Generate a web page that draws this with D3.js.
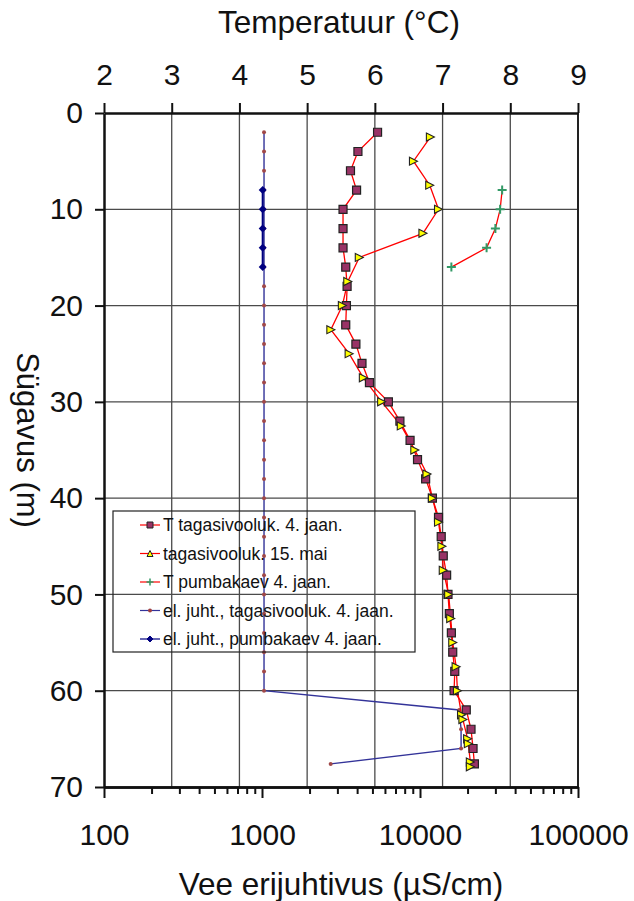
<!DOCTYPE html>
<html>
<head>
<meta charset="utf-8">
<script src="https://cdn.jsdelivr.net/npm/d3@7"></script>
<style>
    body { margin: 0; background: #fff; }
    text { font-family: "Liberation Sans", Arial, sans-serif; fill: #111; }
</style>
</head>
<body>
<svg id="chart" width="634" height="901"></svg>
<script>
// T tagasivooluk. 4. jaan. (squares)
const tagasiJaanDepth = [2, 4, 6, 8, 10, 12, 14, 16, 18, 20, 22, 24, 26, 28, 30, 32, 34, 36, 38, 40,
    42, 44, 46, 48, 50, 52, 54, 56, 58, 60, 62, 64, 66, 67.6];
const tagasiJaanTemp = [6.04, 5.75, 5.64, 5.73, 5.53, 5.53, 5.53, 5.57, 5.59, 5.58, 5.57, 5.72, 5.81, 5.92,
    6.2, 6.37, 6.52, 6.63, 6.75, 6.85, 6.94, 6.98, 7.01, 7.06, 7.08, 7.10, 7.13, 7.15, 7.18, 7.17,
    7.35, 7.42, 7.45, 7.47];

// tagasivooluk. 15. mai (triangles)
const tagasiMaiDepth = [2.5, 5, 7.5, 10, 12.5, 15, 17.5, 20, 22.5, 25, 27.5, 30, 32.5, 35, 37.5, 40,
    42.5, 45, 47.5, 50, 52.5, 55, 57.5, 60, 62.5, 63, 65, 65.5, 67.4, 67.9];
const tagasiMaiTemp = [6.82, 6.57, 6.81, 6.94, 6.71, 5.77, 5.6, 5.52, 5.35, 5.62, 5.83, 6.1, 6.39, 6.59,
    6.77, 6.85, 6.94, 6.99, 7.01, 7.09, 7.12, 7.15, 7.2, 7.22, 7.28, 7.30, 7.37, 7.38, 7.41, 7.41];

// T pumbakaev 4. jaan. (pluses)
const pumbaDepth = [8, 10, 12, 14, 16];
const pumbaTemp = [7.88, 7.85, 7.78, 7.65, 7.13];

// el. juht., tagasivooluk. 4. jaan.
const ecTagasiDepth = [2, 4, 6, 8, 10, 12, 14, 16, 18, 20, 22, 24, 26, 28, 30, 32, 34, 36, 38, 40,
    42, 44, 46, 48, 50, 52, 54, 56, 58, 60, 62, 64, 66, 67.6];
const ecTagasiValue = [1030, 1030, 1030, 1030, 1030, 1030, 1030, 1030, 1030, 1030, 1030, 1030, 1030,
    1030, 1030, 1030, 1030, 1030, 1030, 1030, 1030, 1030, 1030, 1030, 1030, 1030, 1030, 1030, 1030,
    1030, 17700, 18200, 18200, 2720];

// el. juht., pumbakaev 4. jaan.
const ecPumbaDepth = [8, 10, 12, 14, 16];
const ecPumbaValue = [1010, 1010, 1010, 1010, 1010];

const tempTicks = [2, 3, 4, 5, 6, 7, 8, 9];
const depthTicks = [0, 10, 20, 30, 40, 50, 60, 70];
const condTicks = [100, 1000, 10000, 100000];
const legendLabels = [
    "T tagasivooluk. 4. jaan.",
    "tagasivooluk. 15. mai",
    "T pumbakaev 4. jaan.",
    "el. juht., tagasivooluk. 4. jaan.",
    "el. juht., pumbakaev 4. jaan."
];

const margin = {top: 113, right: 56, bottom: 114, left: 104};
const W = 634, H = 901;
const width = W - margin.left - margin.right;
const height = H - margin.top - margin.bottom;

const tScale = d3.scaleLinear().domain([2, 9]).range([0, width]);
const cScale = d3.scaleLog().domain([100, 100000]).range([0, width]);
const yScale = d3.scaleLinear().domain([0, 70]).range([0, height]);

const RED = "#ff0000", PLUM = "#993366", NAVY = "#000080", INDIGO = "#333399";

const svg = d3.select("#chart");
const g = svg.append("g").attr("transform", `translate(${margin.left},${margin.top})`);

// grid
g.append("g").selectAll("line")
    .data(tempTicks.slice(1, -1))
    .join("line")
    .attr("x1", d => tScale(d)).attr("x2", d => tScale(d))
    .attr("y1", 0).attr("y2", height)
    .attr("stroke", "#4a4a4a").attr("stroke-width", 1.3);
g.append("g").selectAll("line")
    .data(depthTicks.slice(1, -1))
    .join("line")
    .attr("x1", 0).attr("x2", width)
    .attr("y1", d => yScale(d)).attr("y2", d => yScale(d))
    .attr("stroke", "#4a4a4a").attr("stroke-width", 1.3);
g.append("line")
    .attr("x1", width).attr("x2", width).attr("y1", 0).attr("y2", height)
    .attr("stroke", "#222").attr("stroke-width", 2);

// legend
const legend = svg.append("g").attr("transform", "translate(113,511)");
legend.append("rect")
    .attr("width", 302).attr("height", 141)
    .attr("fill", "none").attr("stroke", "#222").attr("stroke-width", 1.2);

// markers
const sym = {
    square: s => `M${-s/2},${-s/2}h${s}v${s}h${-s}Z`,
    triRight: s => `M${-s/2},${-s/2}L${s/2},0L${-s/2},${s/2}Z`,
    triUp: s => `M0,${-s/2}L${s/2},${s/2}L${-s/2},${s/2}Z`,
    plus: s => `M${-s/2},0h${s}M0,${-s/2}v${s}`,
    diamond: s => `M0,${-s/2}L${s/2},0L0,${s/2}L${-s/2},0Z`
};

const legendItems = [
    {line: RED, path: sym.square(6), fill: PLUM, stroke: "#222", sw: 1},
    {line: RED, path: sym.triUp(6), fill: "#ffff00", stroke: "#222", sw: 1},
    {line: RED, path: sym.plus(7), fill: "none", stroke: "#339966", sw: 1.5},
    {line: INDIGO, path: "M0,0m-2,0a2,2 0 1,0 4,0a2,2 0 1,0 -4,0", fill: "#a04040", stroke: "none", sw: 0},
    {line: NAVY, path: sym.diamond(6), fill: NAVY, stroke: NAVY, sw: 1}
];
const rowY = d3.scalePoint().domain(d3.range(legendLabels.length)).range([14, 128]);
const rows = legend.selectAll(".row")
    .data(legendLabels)
    .join("g")
    .attr("class", "row")
    .attr("transform", (d, i) => `translate(0,${rowY(i)})`);
rows.append("line")
    .attr("x1", 27).attr("x2", 47)
    .attr("stroke", (d, i) => legendItems[i].line).attr("stroke-width", 1.2);
rows.append("path")
    .attr("transform", "translate(37,0)")
    .attr("d", (d, i) => legendItems[i].path)
    .attr("fill", (d, i) => legendItems[i].fill)
    .attr("stroke", (d, i) => legendItems[i].stroke)
    .attr("stroke-width", (d, i) => legendItems[i].sw);
rows.append("text")
    .attr("x", 50).attr("dy", "0.35em")
    .attr("font-size", 17.5)
    .text(d => d);

// conductivity series
const ecLine = d3.line().x(d => cScale(d.v)).y(d => yScale(d.d));
const ecTagasi = ecTagasiDepth.map((d, i) => ({d: d, v: ecTagasiValue[i]}));
const ecPumba = ecPumbaDepth.map((d, i) => ({d: d, v: ecPumbaValue[i]}));

g.append("path").datum(ecTagasi)
    .attr("d", ecLine).attr("fill", "none")
    .attr("stroke", INDIGO).attr("stroke-width", 1.4);
g.append("g").selectAll("circle")
    .data(ecTagasi)
    .join("circle")
    .attr("cx", d => cScale(d.v)).attr("cy", d => yScale(d.d))
    .attr("r", 2).attr("fill", "#a04848");

g.append("path").datum(ecPumba)
    .attr("d", ecLine).attr("fill", "none")
    .attr("stroke", NAVY).attr("stroke-width", 2);
g.append("g").selectAll("path")
    .data(ecPumba)
    .join("path")
    .attr("transform", d => `translate(${cScale(d.v)},${yScale(d.d)})`)
    .attr("d", sym.diamond(8))
    .attr("fill", NAVY);

// temperature series
const tLine = d3.line().x(d => tScale(d.t)).y(d => yScale(d.d));
function tSeries(depths, temps) {
    return depths.map((d, i) => ({d: d, t: temps[i]}));
}
const series = [
    {data: tSeries(tagasiJaanDepth, tagasiJaanTemp), path: sym.square(8), fill: PLUM, stroke: "#222", sw: 1.2},
    {data: tSeries(tagasiMaiDepth, tagasiMaiTemp), path: sym.triRight(8), fill: "#ffff00", stroke: "#222", sw: 1.1},
    {data: tSeries(pumbaDepth, pumbaTemp), path: sym.plus(9), fill: "none", stroke: "#339966", sw: 2}
];
series.forEach(s => {
    g.append("path").datum(s.data)
        .attr("d", tLine).attr("fill", "none")
        .attr("stroke", RED).attr("stroke-width", 1.3);
});
series.forEach(s => {
    g.append("g").selectAll("path")
        .data(s.data)
        .join("path")
        .attr("transform", d => `translate(${tScale(d.t)},${yScale(d.d)})`)
        .attr("d", s.path)
        .attr("fill", s.fill)
        .attr("stroke", s.stroke)
        .attr("stroke-width", s.sw);
});

// axes
function styleAxis(sel, fontSize) {
    sel.select(".domain").attr("stroke", "#111").attr("stroke-width", 2.5);
    sel.selectAll(".tick line").attr("stroke", "#111").attr("stroke-width", 2);
    sel.selectAll("text").attr("font-size", fontSize).attr("fill", "#111")
        .attr("font-family", "'Liberation Sans', Arial, sans-serif");
}

g.append("g")
    .call(d3.axisTop(tScale).tickValues(tempTicks).tickSize(10).tickSizeOuter(0)
        .tickPadding(18).tickFormat(d3.format("d")))
    .call(sel => styleAxis(sel, 30));

g.append("g")
    .call(d3.axisLeft(yScale).tickValues(depthTicks).tickSize(9).tickSizeOuter(0).tickPadding(12))
    .call(sel => styleAxis(sel, 30));

const minorTicks = cScale.ticks().filter(v => !condTicks.includes(v));
g.append("g")
    .attr("transform", `translate(0,${height})`)
    .call(d3.axisBottom(cScale).tickValues(minorTicks).tickSize(7).tickSizeOuter(0).tickFormat(""))
    .call(sel => styleAxis(sel, 30));
g.append("g")
    .attr("transform", `translate(0,${height})`)
    .call(d3.axisBottom(cScale).tickValues(condTicks).tickSize(11).tickSizeOuter(0)
        .tickPadding(26).tickFormat(d3.format("d")))
    .call(sel => styleAxis(sel, 30));

// titles
svg.append("text")
    .attr("x", margin.left + width / 2 - 2).attr("y", 33)
    .attr("text-anchor", "middle").attr("font-size", 31.5)
    .text("Temperatuur (°C)");
svg.append("text")
    .attr("x", margin.left + width / 2).attr("y", 895)
    .attr("text-anchor", "middle").attr("font-size", 31.5)
    .text("Vee erijuhtivus (µS/cm)");
svg.append("text")
    .attr("transform", "translate(17,440) rotate(90)")
    .attr("text-anchor", "middle").attr("font-size", 31)
    .text("Sügavus (m)");
</script>
</body>
</html>
